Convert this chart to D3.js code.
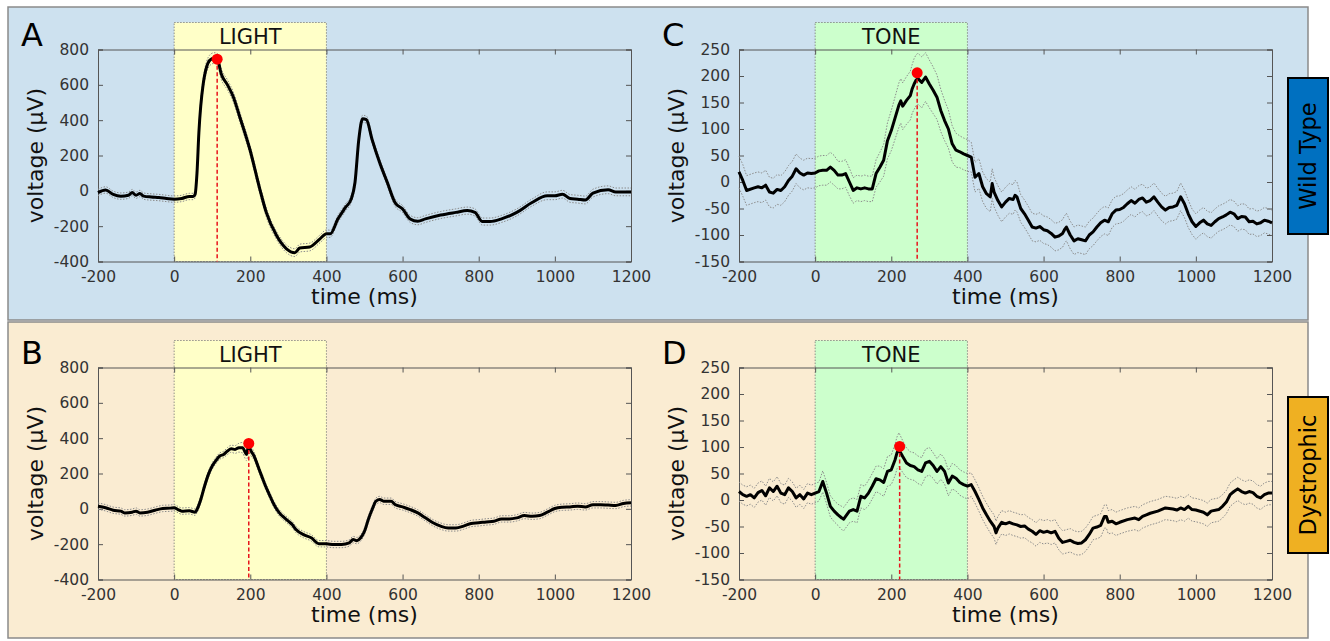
<!DOCTYPE html>
<html>
<head>
<meta charset="utf-8">
<script src="https://cdn.jsdelivr.net/npm/d3@7"></script>
<style>
  body { margin: 0; background: #fff; }
  svg { display: block; font-family: "DejaVu Sans", Verdana, sans-serif; }
</style>
</head>
<body>
<div class="figure"></div>
<script>
// ---- data: [time (ms), mean (uV), sem (uV)] ----
var timeTicks = [-200, 0, 200, 400, 600, 800, 1000, 1200];
var lightTicks = [-400, -200, 0, 200, 400, 600, 800];
var toneTicks = [-150, -100, -50, 0, 50, 100, 150, 200, 250];

var traceA = [[-200,-10,18],[-180,5,18],[-160,-20,18],[-140,-30,18],[-120,-25,18],[-110,-10,18],[-100,-25,18],[-90,-15,18],[-80,-30,18],[-60,-35,18],[-40,-38,18],[-20,-43,18],[0,-47,18],[20,-43,18],[40,-32,18],[50,-32,18],[55,-20,20],[60,100,25],[65,330,28],[76,600,30],[94,740,30],[105,752,30],[113,748,30],[124,660,30],[140,600,28],[155,534,28],[172,421,28],[199,234,25],[225,10,25],[242,-122,25],[269,-253,22],[295,-328,22],[317,-350,22],[330,-324,22],[356,-318,22],[383,-272,22],[400,-243,22],[410,-243,20],[430,-160,20],[450,-94,20],[465,-47,20],[475,47,20],[485,290,20],[495,408,20],[505,403,20],[520,290,20],[540,159,20],[560,47,20],[580,-66,20],[600,-103,20],[620,-159,20],[640,-172,20],[660,-159,20],[700,-137,20],[740,-122,20],[770,-112,20],[790,-122,20],[810,-174,20],[830,-174,20],[860,-159,20],[900,-122,20],[940,-66,20],[980,-28,22],[1000,-28,22],[1020,-19,22],[1040,-43,22],[1060,-47,22],[1080,-52,22],[1100,-13,22],[1140,6,22],[1160,-6,22],[1200,-6,22]];

var traceB = [[-200,15,18],[-180,6,18],[-160,-8,18],[-140,-13,18],[-130,-23,18],[-110,-19,18],[-100,-13,18],[-90,-23,18],[-70,-19,18],[-50,-8,18],[-30,2,18],[-10,4,18],[0,6,18],[10,-4,18],[20,-13,18],[40,-11,18],[55,-19,18],[60,-4,18],[70,53,18],[80,129,18],[90,195,18],[100,242,18],[110,274,18],[120,299,18],[130,308,18],[140,327,20],[150,340,20],[160,336,22],[170,346,25],[180,346,30],[185,327,35],[190,308,35],[196,360,35],[200,336,30],[210,299,22],[220,242,20],[230,185,18],[240,129,18],[250,81,18],[260,34,18],[270,-4,18],[280,-32,18],[290,-51,18],[300,-70,18],[310,-89,18],[320,-117,18],[340,-146,18],[360,-164,18],[380,-197,18],[400,-198,18],[420,-202,18],[440,-202,18],[460,-193,18],[470,-174,18],[480,-180,18],[490,-164,18],[500,-127,18],[510,-60,18],[520,-4,18],[530,43,18],[540,53,18],[550,43,18],[570,43,18],[580,25,18],[600,11,18],[620,-4,18],[640,-23,18],[660,-51,18],[680,-79,18],[700,-98,18],[720,-108,18],[740,-108,18],[760,-98,18],[780,-83,18],[800,-79,18],[820,-74,18],[840,-70,18],[860,-57,18],[880,-57,18],[900,-51,18],[920,-38,18],[940,-42,18],[960,-38,18],[980,-19,18],[1000,2,18],[1020,9,18],[1040,11,18],[1060,15,18],[1080,11,18],[1100,23,18],[1120,23,18],[1140,21,18],[1160,19,18],[1180,30,18],[1200,34,18]];

var traceC = [[-200,19,30],[-190,3,30],[-180,-16,28],[-160,-11,28],[-150,-9,28],[-140,-11,28],[-130,-6,28],[-120,-19,28],[-110,-21,28],[-100,-14,28],[-90,-16,28],[-80,-9,28],[-70,3,28],[-60,11,28],[-50,25,28],[-40,17,28],[-30,13,28],[-20,17,28],[-10,16,28],[0,17,28],[10,21,28],[20,22,28],[30,22,28],[40,28,28],[50,22,28],[60,13,26],[70,13,26],[80,16,26],[90,0,26],[100,-16,24],[110,-11,24],[120,-13,24],[130,-11,24],[140,-13,24],[150,-13,24],[160,16,26],[170,28,28],[180,41,30],[190,78,34],[200,97,38],[210,121,40],[220,145,42],[225,153,42],[230,143,44],[240,154,45],[250,163,46],[255,176,46],[260,185,48],[265,192,48],[270,195,48],[280,188,48],[290,198,46],[300,185,45],[310,173,44],[320,160,42],[330,135,40],[340,116,38],[350,100,36],[360,72,34],[370,60,32],[380,57,30],[390,53,30],[400,50,30],[410,47,28],[420,9,28],[430,16,28],[440,-9,28],[450,-22,28],[460,-28,28],[465,-3,28],[470,-19,28],[480,-35,28],[490,-47,28],[500,-38,28],[510,-31,28],[520,-33,28],[525,-25,28],[530,-28,28],[540,-50,26],[550,-60,26],[560,-72,26],[570,-85,26],[580,-87,26],[590,-84,26],[600,-90,26],[610,-92,26],[620,-97,26],[630,-104,26],[640,-102,26],[650,-97,26],[655,-90,26],[660,-85,26],[670,-100,26],[680,-111,26],[690,-107,26],[700,-109,26],[710,-111,26],[720,-100,26],[730,-94,26],[740,-85,26],[750,-77,26],[760,-72,26],[770,-75,26],[780,-60,26],[790,-53,26],[800,-52,26],[810,-48,26],[820,-41,26],[830,-35,26],[840,-40,26],[850,-33,26],[860,-30,26],[870,-38,26],[880,-35,26],[890,-28,26],[900,-38,26],[910,-47,26],[920,-53,26],[930,-48,26],[940,-47,26],[950,-44,26],[960,-28,26],[970,-41,26],[980,-60,26],[990,-75,24],[1000,-84,24],[1010,-77,24],[1020,-72,24],[1030,-79,24],[1040,-82,24],[1050,-75,24],[1060,-69,24],[1070,-66,24],[1080,-62,24],[1090,-57,24],[1100,-60,24],[1110,-69,24],[1120,-65,24],[1130,-66,24],[1140,-75,24],[1150,-74,24],[1160,-79,24],[1170,-77,24],[1180,-72,24],[1190,-74,24],[1200,-77,24]];

var traceD = [[-200,16,18],[-190,10,18],[-180,7,18],[-170,10,18],[-160,4,18],[-150,14,18],[-140,18,18],[-130,8,18],[-120,23,18],[-110,16,18],[-100,26,18],[-90,13,18],[-80,10,18],[-70,23,18],[-60,16,18],[-50,4,18],[-40,10,18],[-30,2,18],[-20,13,18],[-10,10,18],[0,13,18],[10,16,18],[20,35,20],[30,13,20],[40,-12,20],[50,-21,20],[60,-28,20],[70,-34,22],[75,-36,22],[80,-31,22],[90,-21,22],[100,-18,22],[110,-21,22],[120,7,22],[130,4,22],[140,13,24],[150,26,24],[160,40,24],[170,38,26],[180,33,26],[190,54,28],[200,57,28],[210,76,30],[215,89,30],[220,95,32],[230,82,30],[240,70,28],[250,65,26],[260,63,26],[270,57,26],[280,54,26],[290,70,26],[300,73,26],[310,65,24],[320,54,24],[330,63,24],[340,54,24],[350,32,24],[360,45,24],[370,41,24],[380,33,24],[390,29,24],[400,26,24],[410,29,22],[420,16,22],[430,1,22],[440,-15,22],[450,-28,22],[460,-40,22],[470,-50,22],[475,-62,22],[480,-53,22],[490,-42,22],[500,-45,22],[510,-42,22],[520,-45,22],[530,-47,22],[540,-50,22],[550,-49,22],[560,-55,22],[570,-59,22],[580,-65,22],[590,-58,22],[600,-61,22],[610,-59,22],[620,-62,22],[630,-59,22],[640,-72,22],[650,-80,22],[660,-78,22],[670,-76,22],[680,-80,22],[690,-82,22],[700,-81,22],[710,-75,22],[720,-65,22],[730,-53,22],[740,-51,22],[750,-48,22],[760,-31,22],[765,-31,22],[770,-42,22],[780,-40,22],[790,-45,22],[800,-42,22],[820,-37,22],[840,-34,22],[850,-37,22],[860,-31,22],[870,-28,22],[880,-25,22],[900,-21,22],[920,-15,22],[940,-17,22],[950,-19,22],[960,-15,22],[970,-18,22],[980,-12,22],[990,-18,22],[1000,-19,22],[1020,-23,22],[1030,-28,22],[1040,-21,22],[1060,-18,22],[1070,-12,22],[1080,-4,22],[1090,10,22],[1100,16,22],[1110,21,22],[1120,16,22],[1130,13,22],[1140,16,22],[1150,14,22],[1160,7,22],[1170,4,22],[1180,10,22],[1190,13,22],[1200,13,22]];

// peak markers [time, value]
var peakA = [113, 745];
var peakB = [196, 370];
var peakC = [268, 206];
var peakD = [222, 101];

var rowLabels = ["Wild Type", "Dystrophic"];
var stimWindow = [0, 400];

var W = 1330, H = 641;

function makeSVG() {
  var svg = d3.select(".figure")
    .append("svg")
    .attr("width", W)
    .attr("height", H);
  return svg;
}

var svg = makeSVG();

// row backgrounds
var rows = [
  {y: 7, h: 313, fill: "#cde1ef", label: rowLabels[0], boxFill: "#0070c0", boxY: 78},
  {y: 322, h: 316, fill: "#faecd2", label: rowLabels[1], boxFill: "#efb022", boxY: 397}
];
rows.forEach(function(r) {
  svg.append("rect")
    .attr("x", 8).attr("y", r.y)
    .attr("width", 1300).attr("height", r.h)
    .attr("fill", r.fill)
    .attr("stroke", "#8a8a8a").attr("stroke-width", 1.5);
});

var panels = [
  {letter: "A", data: traceA, peak: peakA, ticks: lightTicks, left: 98, top: 49.5, stim: "LIGHT", stimFill: "#ffffc8", smooth: true},
  {letter: "B", data: traceB, peak: peakB, ticks: lightTicks, left: 98, top: 367.5, stim: "LIGHT", stimFill: "#ffffc8", smooth: true},
  {letter: "C", data: traceC, peak: peakC, ticks: toneTicks, left: 739, top: 49.5, stim: "TONE", stimFill: "#ccffcc", smooth: false},
  {letter: "D", data: traceD, peak: peakD, ticks: toneTicks, left: 739, top: 367.5, stim: "TONE", stimFill: "#ccffcc", smooth: false}
];
var pw = 533, ph = 212;

panels.forEach(function(p) {
  var g = svg.append("g").attr("transform", "translate(" + p.left + "," + p.top + ")");
  var x = d3.scaleLinear().domain([timeTicks[0], timeTicks[timeTicks.length - 1]]).range([0, pw]);
  var y = d3.scaleLinear().domain([p.ticks[0], p.ticks[p.ticks.length - 1]]).range([ph, 0]);

  // stimulus window
  g.append("rect")
    .attr("x", x(stimWindow[0])).attr("y", -27)
    .attr("width", x(stimWindow[1]) - x(stimWindow[0])).attr("height", ph + 27)
    .attr("fill", p.stimFill)
    .attr("stroke", "#777").attr("stroke-width", 0.8)
    .attr("stroke-dasharray", "1.5,1.5");
  g.append("text")
    .attr("x", (x(stimWindow[0]) + x(stimWindow[1])) / 2).attr("y", -5.5)
    .attr("text-anchor", "middle")
    .attr("font-size", 21).attr("fill", "#111")
    .text(p.stim);

  // axes (ticks point inward, mirrored on top/right)
  var fmt = function(d) { return String(d); };
  g.append("g").attr("class", "axis").attr("transform", "translate(0," + ph + ")")
    .call(d3.axisBottom(x).tickValues(timeTicks).tickSize(-5).tickPadding(9).tickFormat(fmt));
  g.append("g").attr("class", "axis")
    .call(d3.axisTop(x).tickValues(timeTicks).tickSize(-5).tickFormat(""));
  g.append("g").attr("class", "axis")
    .call(d3.axisLeft(y).tickValues(p.ticks).tickSize(-5).tickPadding(9).tickFormat(fmt));
  g.append("g").attr("class", "axis").attr("transform", "translate(" + pw + ",0)")
    .call(d3.axisRight(y).tickValues(p.ticks).tickSize(-5).tickFormat(""));
  g.selectAll(".axis path").attr("stroke", "#555").attr("stroke-width", 1);
  g.selectAll(".axis line").attr("stroke", "#555");
  g.selectAll(".axis text").attr("font-size", 15.5).attr("fill", "#333")
    .attr("font-family", "DejaVu Sans, Verdana, sans-serif");

  // sem bounds + mean
  var curve = p.smooth ? d3.curveMonotoneX : d3.curveLinear;
  var upper = d3.line().curve(curve).x(function(d) { return x(d[0]); }).y(function(d) { return y(d[1] + d[2]); });
  var lower = d3.line().curve(curve).x(function(d) { return x(d[0]); }).y(function(d) { return y(d[1] - d[2]); });
  var mean = d3.line().curve(curve).x(function(d) { return x(d[0]); }).y(function(d) { return y(d[1]); });
  [upper, lower].forEach(function(l) {
    g.append("path").datum(p.data)
      .attr("d", l).attr("fill", "none")
      .attr("stroke", "#8c8c8c").attr("stroke-width", 1)
      .attr("stroke-dasharray", "1.5,1.5");
  });
  g.append("path").datum(p.data)
    .attr("d", mean).attr("fill", "none")
    .attr("stroke", "#000").attr("stroke-width", 3)
    .attr("stroke-linejoin", "round");

  // peak marker
  g.append("line")
    .attr("x1", x(p.peak[0])).attr("x2", x(p.peak[0]))
    .attr("y1", y(p.peak[1])).attr("y2", ph)
    .attr("stroke", "#e8141c").attr("stroke-width", 1.5)
    .attr("stroke-dasharray", "4,2.5");
  g.append("circle")
    .attr("cx", x(p.peak[0])).attr("cy", y(p.peak[1])).attr("r", 5.5)
    .attr("fill", "#ff0000");

  // labels
  g.append("text")
    .attr("x", pw / 2).attr("y", ph + 42)
    .attr("text-anchor", "middle").attr("font-size", 22).attr("fill", "#111")
    .text("time (ms)");
  g.append("text")
    .attr("transform", "translate(" + (-55) + "," + (ph / 2) + ") rotate(-90)")
    .attr("text-anchor", "middle").attr("font-size", 22).attr("fill", "#111")
    .text("voltage (\u03bcV)");
  g.append("text")
    .attr("x", -77).attr("y", -4)
    .attr("font-size", 32).attr("fill", "#000")
    .text(p.letter);
});

// row tags on the right
rows.forEach(function(r) {
  svg.append("rect")
    .attr("x", 1288).attr("y", r.boxY)
    .attr("width", 40).attr("height", 156)
    .attr("fill", r.boxFill)
    .attr("stroke", "#000").attr("stroke-width", 2);
  svg.append("text")
    .attr("transform", "translate(" + 1316 + "," + (r.boxY + 78) + ") rotate(-90)")
    .attr("text-anchor", "middle").attr("font-size", 22.5).attr("fill", "#000")
    .text(r.label);
});
</script>
</body>
</html>
